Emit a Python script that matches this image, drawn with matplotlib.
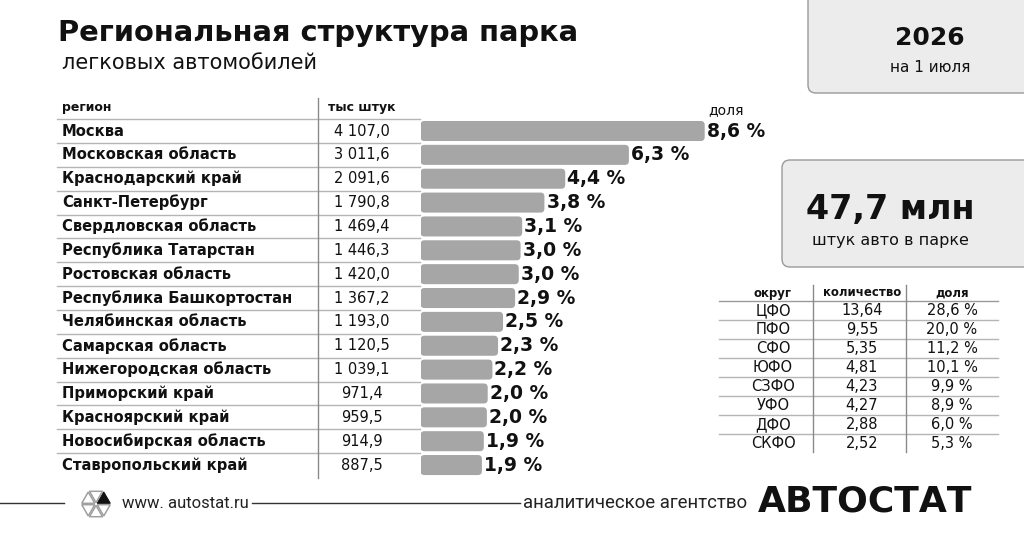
import numpy as np
import matplotlib
matplotlib.use("Agg")
import matplotlib.pyplot as plt
from matplotlib.patches import FancyBboxPatch, Polygon

plt.rcParams['font.family'] = ['DejaVu Sans']

# data
regions = ['Москва', 'Московская область', 'Краснодарский край', 'Санкт-Петербург',
           'Свердловская область', 'Республика Татарстан', 'Ростовская область',
           'Республика Башкортостан', 'Челябинская область', 'Самарская область',
           'Нижегородская область', 'Приморский край', 'Красноярский край',
           'Новосибирская область', 'Ставропольский край']
park_k = [4107.0, 3011.6, 2091.6, 1790.8, 1469.4, 1446.3, 1420.0, 1367.2,
          1193.0, 1120.5, 1039.1, 971.4, 959.5, 914.9, 887.5]
shares = [8.6, 6.3, 4.4, 3.8, 3.1, 3.0, 3.0, 2.9, 2.5, 2.3, 2.2, 2.0, 2.0, 1.9, 1.9]

districts = ['ЦФО', 'ПФО', 'СФО', 'ЮФО', 'СЗФО', 'УФО', 'ДФО', 'СКФО']
district_mln = [13.64, 9.55, 5.35, 4.81, 4.23, 4.27, 2.88, 2.52]
district_share = [28.6, 20.0, 11.2, 10.1, 9.9, 8.9, 6.0, 5.3]

total_mln = 47.7
year = 2026

TXT = '#111111'
BAR = '#a6a6a6'
LINE = '#b5b5b5'


def fmt_num(v, dec=1):
    s = f"{v:,.{dec}f}"
    return s.replace(',', ' ').replace('.', ',')


W, H = 1024, 538
fig = plt.figure(figsize=(W / 100, H / 100), dpi=100)
fig.patch.set_facecolor('white')

# overlay axes in pixel coordinates
ax = fig.add_axes([0, 0, 1, 1])
ax.set_xlim(0, W)
ax.set_ylim(H, 0)
ax.axis('off')

# title
ax.text(58, 33, 'Региональная структура парка', fontsize=20.8, fontweight='bold',
        color=TXT, va='center', ha='left')
ax.text(62, 63, 'легковых автомобилей', fontsize=15, color=TXT, va='center', ha='left')

# left table
row0, drow = 131.0, 23.86
n = len(regions)
ax.text(62, 107, 'регион', fontsize=9, fontweight='bold', color=TXT, va='center')
ax.text(362, 107, 'тыс штук', fontsize=9, fontweight='bold', color=TXT, va='center', ha='center')
ax.text(708, 110, 'доля', fontsize=10, color=TXT, va='center', ha='left')
ax.plot([57, 420], [row0 - drow / 2, row0 - drow / 2], color=LINE, lw=1)
for i in range(n):
    yc = row0 + i * drow
    ax.text(62, yc, regions[i], fontsize=10.6, fontweight='bold', color=TXT, va='center')
    ax.text(362, yc, fmt_num(park_k[i]), fontsize=10.5, color=TXT, va='center', ha='center')
    if i < n - 1:
        ax.plot([57, 420], [yc + drow / 2, yc + drow / 2], color=LINE, lw=1)
ax.plot([318, 318], [98, 478], color='#8a8a8a', lw=1)

# bar axes
px_per_unit = 0.0692
bx0, bw = 420.5, 300
top = row0 - drow / 2
axb = fig.add_axes([bx0 / W, 1 - (top + n * drow) / H, bw / W, n * drow / H])
axb.set_xlim(0, bw / px_per_unit)
axb.set_ylim(n - 0.5, -0.5)
axb.axis('off')
axb.patch.set_alpha(0)

ypos = np.arange(n)
bars = axb.barh(ypos, park_k, height=0.84, color=BAR)
aspect = px_per_unit / drow
for b in list(bars):
    x0, y0 = b.get_xy()
    w, h = b.get_width(), b.get_height()
    b.remove()
    axb.add_patch(FancyBboxPatch((x0, y0), w, h,
                                 boxstyle=f"round,pad=0,rounding_size={4 / px_per_unit}",
                                 mutation_aspect=aspect, fc=BAR, ec='none'))
for i in range(n):
    axb.annotate(f"{shares[i]:.1f} %".replace('.', ','), (park_k[i], ypos[i]),
                 xytext=(1.5, 0), textcoords='offset points', fontsize=13.5,
                 fontweight='bold', color=TXT, va='center', ha='left',
                 annotation_clip=False)

# right boxes
ax.add_patch(FancyBboxPatch((808, -20), 240, 113, boxstyle='round,pad=0,rounding_size=8',
                            fc='#ececec', ec='#9a9a9a', lw=1))
ax.text(930, 38, str(year), fontsize=18, fontweight='bold', color=TXT, ha='center', va='center')
ax.text(930, 67, 'на 1 июля', fontsize=11, color=TXT, ha='center', va='center')

ax.add_patch(FancyBboxPatch((782, 160), 260, 107, boxstyle='round,pad=0,rounding_size=8',
                            fc='#ececec', ec='#9a9a9a', lw=1))
ax.text(890, 210, f"{total_mln:.1f} млн".replace('.', ','), fontsize=24, fontweight='bold',
        color=TXT, ha='center', va='center')
ax.text(890, 240, 'штук авто в парке', fontsize=11.5, color=TXT, ha='center', va='center')

# district table
cols = [773, 862, 952]
hdr_y, d0, dd = 293, 310.7, 19.0
for cx, lab in zip(cols, ['округ', 'количество', 'доля']):
    ax.text(cx, hdr_y, lab, fontsize=8.5, fontweight='bold', color=TXT, ha='center', va='center')
ax.plot([719, 998], [d0 - dd / 2, d0 - dd / 2], color='#9a9a9a', lw=1)
for j in range(len(districts)):
    yc = d0 + j * dd
    ax.text(cols[0], yc, districts[j], fontsize=10.5, color=TXT, ha='center', va='center')
    ax.text(cols[1], yc, fmt_num(district_mln[j], 2), fontsize=10.5, color=TXT, ha='center', va='center')
    ax.text(cols[2], yc, f"{district_share[j]:.1f} %".replace('.', ','), fontsize=10.5,
            color=TXT, ha='center', va='center')
    if j < len(districts) - 1:
        ax.plot([719, 998], [yc + dd / 2, yc + dd / 2], color=LINE, lw=1)
for vx in [812.7, 906]:
    ax.plot([vx, vx], [285, 452], color='#8a8a8a', lw=1)

# footer
fy = 503
ax.plot([0, 64], [fy, fy], color='#333333', lw=1)
ax.plot([252, 520], [fy, fy], color='#333333', lw=1)
cx, cy, r = 96, fy + 1, 15.5
ang = np.deg2rad(np.arange(0, 360, 60))
pts = np.array([(cx + r * np.cos(a), cy - r * np.sin(a)) for a in ang])
for k in range(6):
    tri = np.array([(cx, cy), pts[k], pts[(k + 1) % 6]])
    c = tri.mean(axis=0)
    tri = c + (tri - c) * 0.84
    if k == 0:
        ax.add_patch(Polygon(tri, closed=True, fc='#111111', ec='#111111', lw=0.8))
    else:
        ax.add_patch(Polygon(tri, closed=True, fc='none', ec='#a0a0a0', lw=1.1))
ax.text(122, fy, 'www. autostat.ru', fontsize=12, color='#222222', family='Roboto',
        ha='left', va='center')
ax.text(523, fy, 'аналитическое агентство', fontsize=13.4, color='#222222', family='Roboto',
        ha='left', va='center')
ax.text(758, fy - 2, 'АВТОСТАТ', fontsize=26, fontweight='bold', color='#111111',
        ha='left', va='center')

fig.savefig('out.png', dpi=100, facecolor='white')
